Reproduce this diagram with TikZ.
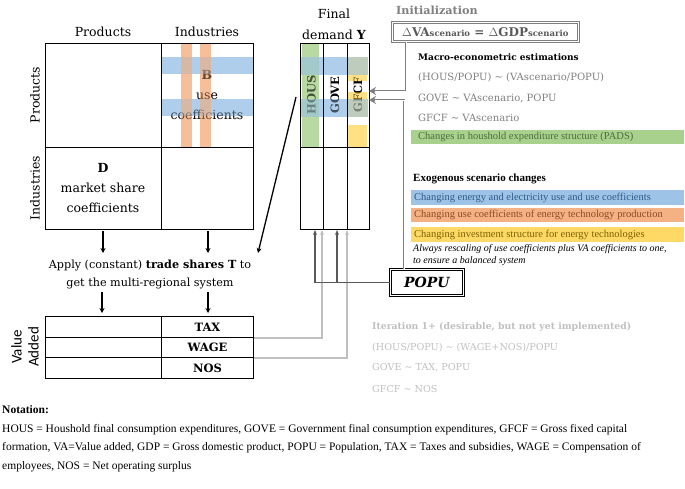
\documentclass[tikz,border=0pt]{standalone}
\usepackage{fontspec}
\setmainfont{DejaVu Serif}
\newfontfamily\notefont{Liberation Serif}
\newfontfamily\calib{Carlito}
\usetikzlibrary{arrows.meta}
\definecolor{bblue}{HTML}{9DC3E6}
\definecolor{borange}{HTML}{F4B183}
\definecolor{bgreen}{HTML}{A9D18E}
\definecolor{byellow}{HTML}{FFD966}
\definecolor{tgray}{HTML}{7F7F7F}
\definecolor{lgray}{HTML}{BFBFBF}
\definecolor{dgray}{HTML}{595959}
\definecolor{tgreen}{HTML}{4E6B3A}
\definecolor{tblue}{HTML}{2F5B8A}
\definecolor{torange}{HTML}{8C4A26}
\definecolor{tyellow}{HTML}{7F6000}
\newcommand{\fs}[1]{\fontsize{#1}{#1}\selectfont}
\newcommand{\fsb}[2]{\fontsize{#1}{#2}\selectfont}
\newcommand{\bandset}[1]{%
  \fill[bblue, #1] (161,57) rectangle (253,74);
  \fill[bblue, #1] (161,99) rectangle (253,116);
  \fill[borange, #1] (181,43) rectangle (192,147);
  \fill[borange, #1] (200,43) rectangle (211,147);
  \fill[bgreen, #1] (302,43) rectangle (319,147);
  \fill[byellow, #1] (347,57) rectangle (367,81);
  \fill[byellow, #1] (347,92) rectangle (367,117);
  \fill[byellow, #1] (347,125) rectangle (367,147);
  \fill[bblue, #1] (300,57) rectangle (368,75);
  \fill[bblue, #1] (300,99) rectangle (368,117);}
\begin{document}
\begin{tikzpicture}[x=1pt,y=-1pt,
  cell/.style={draw, line width=1pt, inner sep=0, anchor=north west},
  lbl/.style={inner sep=0, align=center, font=\fs{12.5}},
  rot/.style={inner sep=0, rotate=90, align=center},
  bandunder/.style={fill opacity=0.7},
  bandover/.style={fill opacity=0.4},
  blk/.style={line width=1.3pt, -{Stealth[length=5pt,width=5pt]}},
  lgline/.style={draw=lgray, line width=1.1pt, -{Stealth[length=5pt,width=4pt]}},
  dkline/.style={draw=dgray, line width=1.1pt, -{Stealth[length=5pt,width=4pt]}},
  outerline/.style={draw=tgray, line width=2.4pt, -{Stealth[length=7pt,width=8pt]}},
  innerline/.style={draw=white, line width=0.8pt, shorten >=6pt},
  txt/.style={inner sep=0, anchor=west},
  rtxt/.style={inner sep=0, anchor=west, font=\notefont\fs{10}},
  dbox/.style={draw, double, line width=0.7pt, double distance=1.4pt, inner sep=0, anchor=north west},
]
\useasboundingbox (0,0) rectangle (685,489);

% ---------- headers ----------
\node[lbl] (hp) at (103,32) {Products};
\node[lbl] (hi) at (207,32) {Industries};
\node[lbl, rotate=90] (vp) at (35,95) {Products};
\node[lbl, rotate=90] (vi) at (35,188) {Industries};
\node[lbl, font=\fsb{12.5}{21}] (fd) at (334,24) {Final\\demand \textbf{Y}};

% ---------- bands (under) ----------
\bandset{bandunder}

% ---------- texts in left matrix ----------
\node[lbl, font=\fsb{12.5}{20}] (btxt) at (207,95) {\textbf{B}\\use\\coefficients};
\node[lbl, font=\fsb{12.5}{20}] (dtxt) at (103,188) {\textbf{D}\\market share\\coefficients};

% texts in final demand
\node[rot, font=\bfseries\fs{11.5}] (th) at (311.5,95) {HOUS};
\node[rot, font=\bfseries\fs{11.5}] (tg) at (335,95) {GOVE};
\node[rot, font=\bfseries\fs{11.5}] (tf) at (358,95) {GFCF};

% ---------- bands (over, tinting the text) ----------
\bandset{bandover}

% ---------- left matrix cells ----------
\node[cell, minimum width=116, minimum height=104] (pp) at (45,43) {};
\node[cell, minimum width=92, minimum height=104] (pi) at (161,43) {};
\node[cell, minimum width=116, minimum height=82] (ip) at (45,147) {};
\node[cell, minimum width=92, minimum height=82] (ii) at (161,147) {};

% ---------- final demand cells ----------
\node[cell, minimum width=23, minimum height=104] (yh) at (300,43) {};
\node[cell, minimum width=24, minimum height=104] (yg) at (323,43) {};
\node[cell, minimum width=22, minimum height=104] (yf) at (347,43) {};
\node[cell, minimum width=23, minimum height=82] (yh2) at (300,147) {};
\node[cell, minimum width=24, minimum height=82] (yg2) at (323,147) {};
\node[cell, minimum width=22, minimum height=82] (yf2) at (347,147) {};

% ---------- apply text ----------
\node[lbl, font=\fsb{11.2}{18}] (apply) at (150,274) {Apply (constant) \textbf{trade shares T} to\\get the multi-regional system};

% ---------- value added table ----------
\node[cell, minimum width=116, minimum height=21] (v1l) at (45,316) {};
\node[cell, minimum width=92, minimum height=21, font=\bfseries\fs{11.5}] (tax) at (161,316) {TAX};
\node[cell, minimum width=116, minimum height=20] (v2l) at (45,337) {};
\node[cell, minimum width=92, minimum height=20, font=\bfseries\fs{11.5}] (wage) at (161,337) {WAGE};
\node[cell, minimum width=116, minimum height=21] (v3l) at (45,357) {};
\node[cell, minimum width=92, minimum height=21, font=\bfseries\fs{11.5}] (nos) at (161,357) {NOS};
\node[rot, font=\calib\fsb{15}{17}] (va) at (25,347) {Value\\Added};

% ---------- black arrows ----------
\coordinate (a1) at (103,231); \coordinate (a1e) at (103,253);
\coordinate (a2) at (208,231); \coordinate (a2e) at (208,253);
\coordinate (a3) at (102,292); \coordinate (a3e) at (102,313);
\coordinate (a4) at (208,292); \coordinate (a4e) at (208,313);
\coordinate (ds) at (296,97); \coordinate (de) at (258,253);
\draw[blk] (a1) -- (a1e);
\draw[blk] (a2) -- (a2e);
\draw[blk] (a3) -- (a3e);
\draw[blk] (a4) -- (a4e);
\draw[blk] (ds) -- (de);

% ---------- POPU ----------
\node[dbox, minimum width=73, minimum height=26, font=\bfseries\itshape\fs{14}] (popu) at (390,269) {POPU};

% ---------- connectors to final demand ----------
\coordinate (h1) at (315,230);
\coordinate (g1) at (337,230);
\coordinate (h2) at (322,230);
\coordinate (g2) at (347,230);
\draw[lgline] (tax.south east) -| (h2);
\draw[lgline] (wage.south east) -| (g2);
\draw[dkline] (popu.west) -| (h1);
\draw[dkline] (g1 |- popu.west) -- (g1);

% ---------- initialization ----------
\node[txt, font=\bfseries\fs{11.2}, text=tgray] (init) at (396,10) {Initialization};
\node[dbox, draw=tgray, minimum width=186, minimum height=19, font=\bfseries\fs{12}, text=dgray] (dva) at (392,22)
  {$\Delta$VA{\fs{8.5}scenario} = $\Delta$GDP{\fs{8.5}scenario}};
\coordinate (gf1) at (369,91);
\coordinate (gf2) at (369,100);
\coordinate (s1) at ([xshift=14pt]dva.south west);
\coordinate (s2) at ([xshift=14pt]popu.north west);
\draw[outerline] (s1) |- (gf1);
\draw[innerline] (s1) |- (gf1);
\draw[outerline] (s2) |- (gf2);
\draw[innerline] (s2) |- (gf2);

\node[txt, font=\bfseries\fs{9}] (macro) at (418,57) {Macro-econometric estimations};
\node[txt, font=\fs{10}, text=tgray] (e1) at (418,77) {(HOUS/POPU) \char`\~{} (VAscenario/POPU)};
\node[txt, font=\fs{10}, text=tgray] (e2) at (418,98) {GOVE \char`\~{} VAscenario, POPU};
\node[txt, font=\fs{10}, text=tgray] (e3) at (418,118) {GFCF \char`\~{} VAscenario};

\fill[bgreen] (411,130) rectangle (684,144);
\node[rtxt, font=\notefont\fs{10.5}, text=tgreen] (pads) at (418,137) {Changes in houshold expenditure structure (PADS)};

\node[rtxt, font=\notefont\bfseries\fs{11}] (exo) at (413,179) {Exogenous scenario changes};
\fill[bblue] (411,190) rectangle (684,205);
\node[rtxt, font=\notefont\fs{10.5}, text=tblue] (c1) at (414,197.5) {Changing energy and electricity use and use coefficients};
\fill[borange] (411,208) rectangle (684,222);
\node[rtxt, font=\notefont\fs{10.5}, text=torange] (c2) at (414,215) {Changing use coefficients of energy technology production};
\fill[byellow] (411,227) rectangle (684,242);
\node[rtxt, font=\notefont\fs{10.5}, text=tyellow] (c3) at (414,234.5) {Changing investment structure for energy technologies};
\node[rtxt, font=\notefont\itshape\fs{10}] (it1) at (413,249) {Always rescaling of use coefficients plus VA coefficients to one,};
\node[rtxt, font=\notefont\itshape\fs{10}] (it2) at (413,261) {to ensure a balanced system};

% ---------- iteration ----------
\node[txt, font=\bfseries\fs{9.3}, text=lgray] (iter) at (372,327) {Iteration 1+ (desirable, but not yet implemented)};
\node[txt, font=\fs{9.6}, text=lgray] (i1) at (372,348) {(HOUS/POPU) \char`\~{} (WAGE+NOS)/POPU};
\node[txt, font=\fs{9.6}, text=lgray] (i2) at (372,368) {GOVE \char`\~{} TAX, POPU};
\node[txt, font=\fs{9.6}, text=lgray] (i3) at (372,389) {GFCF \char`\~{} NOS};

% ---------- notation ----------
\node[txt, font=\notefont\bfseries\fs{11.5}] (notat) at (2,410) {Notation:};
\node[txt, anchor=north west, align=left, font=\notefont\fsb{11.5}{18.5}] (notes) at (2,424)
 {HOUS = Houshold final consumption expenditures, GOVE = Government final consumption expenditures, GFCF = Gross fixed capital\\
 formation, VA=Value added, GDP = Gross domestic product, POPU = Population, TAX = Taxes and subsidies, WAGE = Compensation of\\
 employees, NOS = Net operating surplus};
\end{tikzpicture}
\end{document}
